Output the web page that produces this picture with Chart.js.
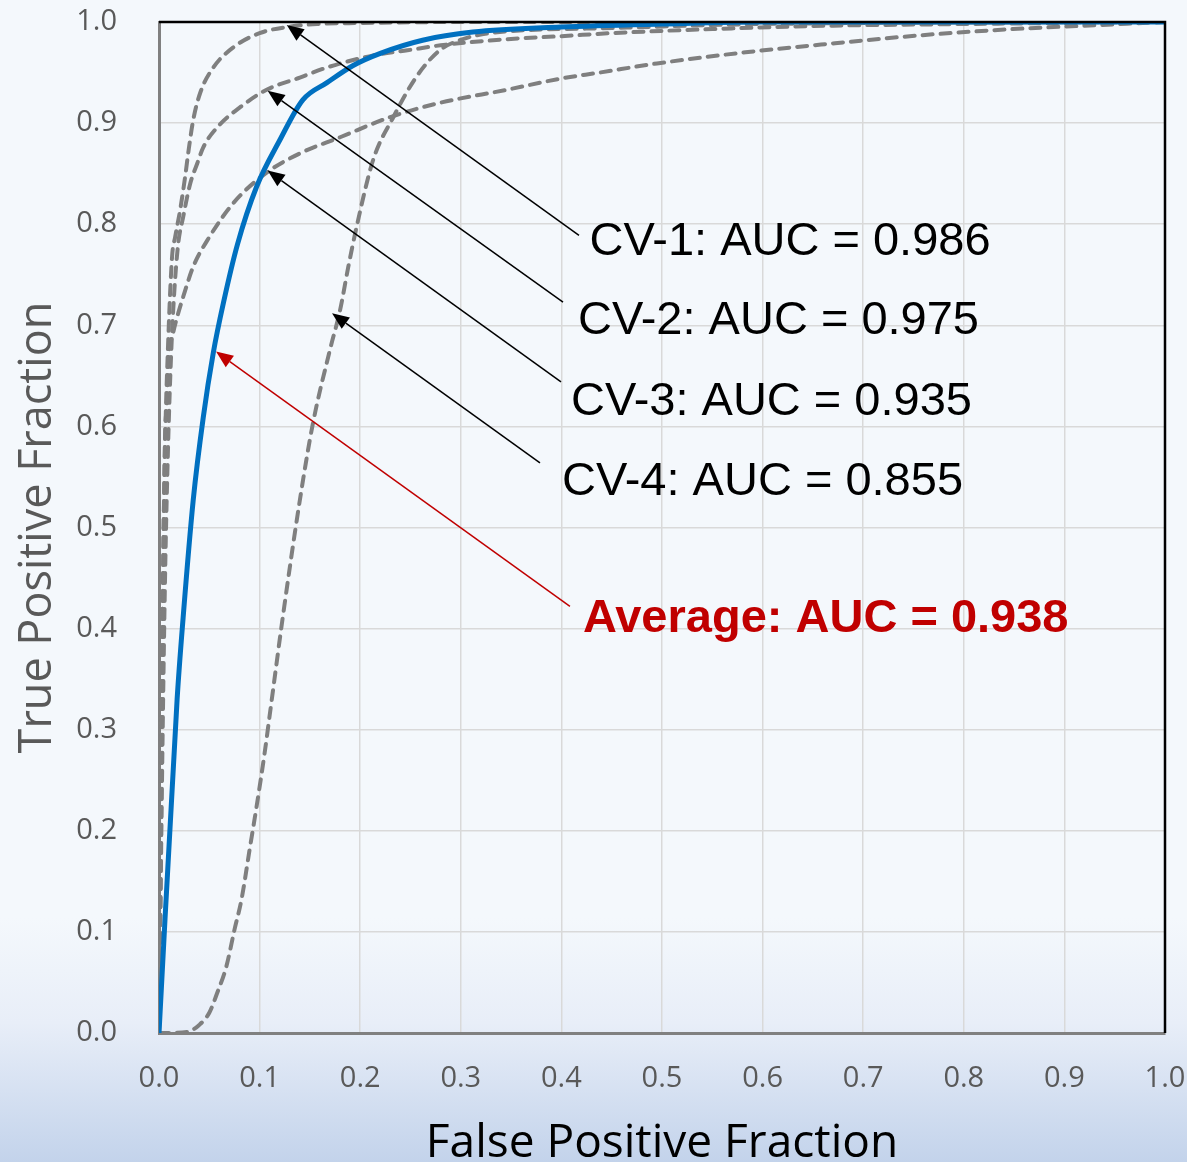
<!DOCTYPE html>
<html>
<head>
<meta charset="utf-8">
<script src="https://cdn.jsdelivr.net/npm/chart.js@4.4.1/dist/chart.umd.min.js"></script>
<style>
  html, body {
    margin: 0;
    padding: 0;
  }
  body {
    width: 1187px;
    height: 1162px;
    background: linear-gradient(to bottom, #f4f8fc 0%, #f4f8fc 79%, #e8eef8 88%, #c3d3eb 100%);
    overflow: hidden;
  }
  canvas { display: block; }
</style>
</head>
<body>
<canvas id="rocChart" width="1187" height="1162"></canvas>
<script>
// ROC curves
const cv1Fpr = [0, 0.002, 0.004, 0.006, 0.009, 0.013, 0.016, 0.021, 0.026, 0.029, 0.034, 0.041, 0.054, 0.074, 0.100, 0.127, 0.157, 0.2, 0.3, 1.0];
const cv1Tpr = [0, 0.25, 0.45, 0.58, 0.68, 0.768, 0.787, 0.814, 0.847, 0.870, 0.903, 0.930, 0.955, 0.975, 0.989, 0.995, 0.998, 0.999, 1.0, 1.0];

const cv2Fpr = [0, 0.003, 0.006, 0.009, 0.012, 0.015, 0.019, 0.024, 0.031, 0.038, 0.044, 0.058, 0.081, 0.107, 0.14, 0.167, 0.213, 0.247, 0.28, 0.346, 0.4, 0.45, 0.55, 0.65, 0.8, 1.0];
const cv2Tpr = [0, 0.25, 0.45, 0.58, 0.67, 0.73, 0.78, 0.807, 0.84, 0.86, 0.876, 0.896, 0.916, 0.933, 0.945, 0.955, 0.967, 0.972, 0.977, 0.983, 0.986, 0.989, 0.993, 0.996, 0.998, 1.0];

const cv3Fpr = [0, 0.002, 0.003, 0.004, 0.005, 0.006, 0.008, 0.009, 0.014, 0.018, 0.024, 0.034, 0.048, 0.074, 0.107, 0.14, 0.18, 0.23, 0.279, 0.346, 0.399, 0.438, 0.495, 0.583, 0.672, 0.759, 0.849, 0.935, 1.0];
const cv3Tpr = [0, 0.2, 0.35, 0.45, 0.53, 0.59, 0.626, 0.659, 0.692, 0.708, 0.728, 0.758, 0.784, 0.821, 0.851, 0.870, 0.886, 0.906, 0.920, 0.933, 0.944, 0.950, 0.959, 0.970, 0.979, 0.987, 0.993, 0.997, 1.0];

const cv4Fpr = [0, 0.028, 0.040, 0.050, 0.058, 0.067, 0.075, 0.082, 0.090, 0.097, 0.105, 0.112, 0.123, 0.140, 0.153, 0.170, 0.180, 0.188, 0.197, 0.213, 0.233, 0.256, 0.279, 0.299, 0.329, 0.45, 0.6, 1.0];
const cv4Tpr = [0, 0.001, 0.008, 0.02, 0.04, 0.066, 0.102, 0.132, 0.181, 0.224, 0.277, 0.329, 0.411, 0.527, 0.603, 0.676, 0.715, 0.757, 0.80, 0.864, 0.906, 0.946, 0.972, 0.982, 0.989, 0.994, 0.998, 1.0];

const avgFpr = [0, 0.018, 0.024, 0.034, 0.044, 0.054, 0.064, 0.078, 0.097, 0.120, 0.143, 0.167, 0.193, 0.220, 0.262, 0.312, 0.399, 0.5, 0.6, 1.0];
const avgTpr = [0, 0.33, 0.411, 0.527, 0.609, 0.673, 0.722, 0.78, 0.837, 0.883, 0.923, 0.940, 0.957, 0.969, 0.982, 0.990, 0.995, 0.998, 1.0, 1.0];

const tickValues = [0, 0.1, 0.2, 0.3, 0.4, 0.5, 0.6, 0.7, 0.8, 0.9, 1.0];

const labels = ['CV-1: AUC = 0.986', 'CV-2: AUC = 0.975', 'CV-3: AUC = 0.935', 'CV-4: AUC = 0.855', 'Average: AUC = 0.938'];

// callouts: text anchor, arrow tail and arrow tip, all in chart units
const callouts = [
    { text: labels[0], tx: 0.428, ty: 0.7695, from: [0.4175, 0.789], to: [0.127, 0.997], color: '#000000', bold: false },
    { text: labels[1], tx: 0.4165, ty: 0.691, from: [0.4016, 0.723], to: [0.108, 0.932], color: '#000000', bold: false },
    { text: labels[2], tx: 0.4095, ty: 0.611, from: [0.3996, 0.644], to: [0.108, 0.853], color: '#000000', bold: false },
    { text: labels[3], tx: 0.4006, ty: 0.532, from: [0.3787, 0.564], to: [0.172, 0.712], color: '#000000', bold: false },
    { text: labels[4], tx: 0.4215, ty: 0.3966, from: [0.4085, 0.422], to: [0.0567, 0.674], color: '#c00000', bold: true }
];

function toPoints(xs, ys) {
    return xs.map(function(x, i) { return { x: x, y: ys[i] }; });
}

function dashed(label, xs, ys) {
    return {
        label: label,
        data: toPoints(xs, ys),
        borderColor: '#7f7f7f',
        borderWidth: 4,
        borderDash: [10, 8],
        borderCapStyle: 'round',
        pointRadius: 0,
        showLine: true,
        cubicInterpolationMode: 'monotone',
        order: 1
    };
}

function drawArrow(ctx, x1, y1, x2, y2, color) {
    const ang = Math.atan2(y2 - y1, x2 - x1);
    const headLen = 17;
    const headHalf = 7;
    const bx = x2 - headLen * Math.cos(ang);
    const by = y2 - headLen * Math.sin(ang);
    ctx.strokeStyle = color;
    ctx.fillStyle = color;
    ctx.lineWidth = 1.5;
    ctx.beginPath();
    ctx.moveTo(x1, y1);
    ctx.lineTo(bx, by);
    ctx.stroke();
    ctx.beginPath();
    ctx.moveTo(x2, y2);
    ctx.lineTo(bx + headHalf * Math.sin(ang), by - headHalf * Math.cos(ang));
    ctx.lineTo(bx - headHalf * Math.sin(ang), by + headHalf * Math.cos(ang));
    ctx.closePath();
    ctx.fill();
}

const calloutPlugin = {
    id: 'callouts',
    afterDraw: function(chart) {
        const ctx = chart.ctx;
        const xs = chart.scales.x;
        const ys = chart.scales.y;
        const area = chart.chartArea;
        ctx.save();

        // black frame on top and right
        ctx.strokeStyle = '#000000';
        ctx.lineWidth = 2.5;
        ctx.beginPath();
        ctx.moveTo(area.left, area.top);
        ctx.lineTo(area.right, area.top);
        ctx.lineTo(area.right, area.bottom);
        ctx.stroke();

        callouts.forEach(function(c) {
            drawArrow(ctx,
                xs.getPixelForValue(c.from[0]), ys.getPixelForValue(c.from[1]),
                xs.getPixelForValue(c.to[0]), ys.getPixelForValue(c.to[1]),
                c.color);
            ctx.fillStyle = c.color;
            ctx.font = (c.bold ? 'bold ' : '') + '47px "Liberation Sans", Arial, sans-serif';
            ctx.textAlign = 'left';
            ctx.textBaseline = 'alphabetic';
            ctx.fillText(c.text, xs.getPixelForValue(c.tx), ys.getPixelForValue(c.ty));
        });
        ctx.restore();
    }
};

function noPad(scale) {
    scale.paddingTop = 0;
    scale.paddingBottom = 0;
    scale.paddingLeft = 0;
    scale.paddingRight = 0;
}

const ctx = document.getElementById('rocChart');

new Chart(ctx, {
    type: 'scatter',
    data: {
        datasets: [
            {
                label: 'Average',
                data: toPoints(avgFpr, avgTpr),
                borderColor: '#0070c0',
                borderWidth: 5,
                pointRadius: 0,
                showLine: true,
                cubicInterpolationMode: 'monotone',
                order: 0
            },
            dashed('CV-1', cv1Fpr, cv1Tpr),
            dashed('CV-2', cv2Fpr, cv2Tpr),
            dashed('CV-3', cv3Fpr, cv3Tpr),
            dashed('CV-4', cv4Fpr, cv4Tpr)
        ]
    },
    options: {
        responsive: false,
        animation: false,
        layout: {
            padding: { top: 22, right: 22, left: 0, bottom: 0 }
        },
        plugins: {
            legend: { display: false },
            tooltip: { enabled: false }
        },
        scales: {
            x: {
                type: 'linear',
                min: 0,
                max: 1,
                afterFit: function(scale) { scale.height = 129; noPad(scale); },
                afterBuildTicks: function(scale) {
                    scale.ticks = tickValues.map(function(v) { return { value: v }; });
                },
                ticks: {
                    color: '#595959',
                    font: { family: '"Open Sans", sans-serif', size: 29 },
                    padding: 28,
                    maxRotation: 0,
                    callback: function(v) { return v.toFixed(1); }
                },
                grid: {
                    color: '#d9d9d9',
                    lineWidth: 1.5,
                    drawTicks: false
                },
                border: { color: '#808080', width: 3 },
                title: {
                    display: true,
                    text: 'False Positive Fraction',
                    color: '#000000',
                    font: { family: '"Open Sans", sans-serif', size: 46, lineHeight: 0.8 },
                    padding: { top: 0, bottom: 0 }
                }
            },
            y: {
                type: 'linear',
                min: 0,
                max: 1,
                afterFit: function(scale) { scale.width = 159; noPad(scale); },
                afterBuildTicks: function(scale) {
                    scale.ticks = tickValues.map(function(v) { return { value: v }; });
                },
                ticks: {
                    color: '#595959',
                    font: { family: '"Open Sans", sans-serif', size: 29 },
                    padding: 42,
                    callback: function(v) { return v.toFixed(1); }
                },
                grid: {
                    color: '#d9d9d9',
                    lineWidth: 1.5,
                    drawTicks: false
                },
                border: { color: '#808080', width: 3 },
                title: {
                    display: true,
                    text: 'True Positive Fraction',
                    color: '#595959',
                    font: { family: '"Open Sans", sans-serif', size: 45, lineHeight: 1.2 },
                    padding: { top: 11, bottom: 0 }
                }
            }
        }
    },
    plugins: [calloutPlugin]
});
</script>
</body>
</html>
